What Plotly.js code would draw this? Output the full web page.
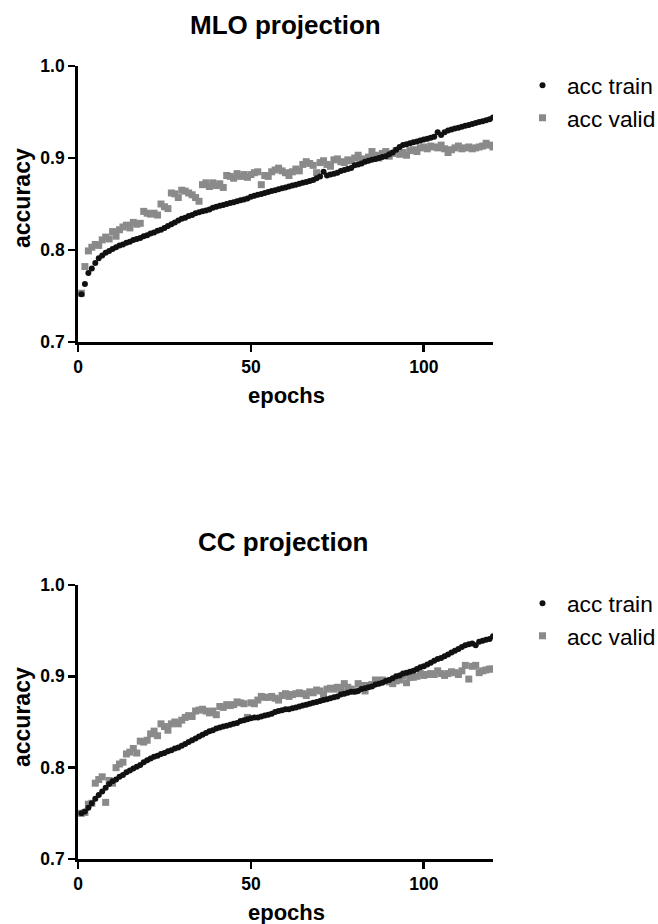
<!DOCTYPE html>
<html>
<head>
<meta charset="utf-8">
<script src="https://cdn.plot.ly/plotly-3.0.1.min.js"></script>
<style>html,body{margin:0;padding:0;background:#fff;}#chart{width:658px;height:924px;}</style>
</head>
<body>
<div id="chart"></div>
<script>
// ---- data ----
const epochs = Array.from({length: 120}, (_, i) => i + 1);

const mloTrain = [
 .752,.763,.775,.780,.786,.791,.794,.797,.799,.801,
 .803,.805,.806,.808,.809,.811,.812,.813,.815,.816,
 .818,.819,.821,.822,.824,.826,.828,.830,.832,.834,
 .835,.837,.838,.840,.841,.842,.843,.844,.846,.847,
 .848,.849,.850,.851,.852,.853,.854,.855,.856,.858,
 .859,.860,.861,.862,.863,.864,.865,.866,.867,.868,
 .869,.870,.871,.872,.873,.874,.875,.876,.878,.880,
 .885,.881,.882,.883,.884,.886,.887,.888,.889,.892,
 .893,.894,.896,.897,.898,.899,.900,.901,.902,.904,
 .906,.909,.912,.914,.915,.916,.917,.918,.919,.920,
 .921,.922,.923,.928,.925,.928,.930,.931,.932,.933,
 .934,.935,.936,.937,.938,.939,.940,.941,.942,.944
];
const mloValid = [
 .753,.782,.799,.803,.806,.805,.811,.814,.812,.820,
 .815,.822,.825,.827,.824,.830,.828,.829,.842,.840,
 .839,.840,.838,.850,.847,.845,.862,.861,.857,.865,
 .864,.862,.860,.857,.853,.871,.873,.869,.873,.870,
 .872,.868,.881,.880,.878,.883,.880,.882,.879,.882,
 .884,.885,.871,.881,.880,.885,.887,.889,.886,.884,
 .881,.885,.888,.886,.893,.896,.894,.892,.884,.895,
 .897,.893,.891,.898,.899,.896,.895,.898,.897,.900,
 .903,.899,.898,.901,.907,.903,.900,.905,.907,.902,
 .905,.908,.904,.906,.903,.908,.909,.907,.911,.912,
 .910,.913,.912,.911,.914,.910,.906,.909,.911,.913,
 .910,.911,.912,.910,.911,.912,.913,.916,.914,.912
];
const ccTrain = [
 .750,.752,.756,.761,.766,.770,.774,.778,.782,.785,
 .787,.790,.792,.795,.797,.799,.801,.803,.806,.808,
 .810,.812,.813,.815,.816,.818,.819,.821,.822,.824,
 .826,.828,.830,.832,.834,.836,.838,.840,.841,.843,
 .844,.845,.846,.847,.848,.849,.851,.852,.853,.854,
 .855,.855,.856,.857,.858,.859,.861,.862,.863,.864,
 .864,.865,.866,.867,.868,.869,.870,.871,.872,.873,
 .874,.875,.876,.877,.878,.880,.881,.882,.883,.883,
 .884,.886,.887,.888,.889,.891,.892,.893,.895,.896,
 .898,.900,.901,.903,.904,.905,.906,.908,.910,.911,
 .913,.915,.917,.919,.920,.922,.924,.926,.928,.930,
 .932,.934,.935,.936,.934,.938,.939,.940,.941,.944
];
const ccValid = [
 .750,.751,.760,.761,.783,.787,.790,.762,.786,.783,
 .800,.804,.806,.815,.817,.821,.816,.829,.828,.830,
 .837,.840,.835,.848,.845,.841,.848,.850,.848,.852,
 .855,.857,.856,.862,.863,.864,.862,.860,.862,.858,
 .867,.866,.869,.868,.869,.872,.871,.870,.855,.871,
 .870,.874,.878,.877,.877,.878,.876,.874,.879,.881,
 .878,.880,.881,.882,.881,.879,.883,.882,.885,.884,
 .880,.886,.887,.886,.888,.886,.892,.888,.886,.884,
 .892,.890,.884,.890,.891,.896,.895,.896,.895,.894,
 .892,.895,.896,.901,.893,.899,.899,.900,.903,.901,
 .902,.903,.902,.906,.903,.901,.903,.905,.904,.902,
 .906,.912,.897,.911,.912,.904,.906,.907,.908,.908
];

const panelTitles = ['MLO projection', 'CC projection'];
const seriesNames = ['acc train', 'acc valid'];
const xTicks = [0, 50, 100];
const yTicks = [0.7, 0.8, 0.9, 1.0];

// ---- styling ----
const W = 658, H = 924;
const FONT = 'Liberation Sans, Arial, sans-serif';
const trainMarker = {symbol: 'circle', size: 6, color: '#111111'};
const validMarker = {symbol: 'square', size: 7, color: '#8a8a8a'};

function px(x) { return x / W; }
function py(y) { return 1 - y / H; }

const traces = [
  {x: epochs, y: mloValid, type: 'scatter', mode: 'markers', name: seriesNames[1], marker: validMarker, xaxis: 'x', yaxis: 'y', legend: 'legend', legendgroup: 'v1', legendrank: 2},
  {x: epochs, y: mloTrain, type: 'scatter', mode: 'markers', name: seriesNames[0], marker: trainMarker, xaxis: 'x', yaxis: 'y', legend: 'legend', legendgroup: 't1', legendrank: 1},
  {x: epochs, y: ccValid, type: 'scatter', mode: 'markers', name: seriesNames[1], marker: validMarker, xaxis: 'x2', yaxis: 'y2', legend: 'legend2', legendgroup: 'v2', legendrank: 2},
  {x: epochs, y: ccTrain, type: 'scatter', mode: 'markers', name: seriesNames[0], marker: trainMarker, xaxis: 'x2', yaxis: 'y2', legend: 'legend2', legendgroup: 't2', legendrank: 1}
];

const xDom = [px(78), px(493)];
const tickFont = {family: FONT, size: 17.5, color: '#000', weight: 'bold'};
function xAxis(anchor) {
  return {
    domain: xDom, anchor: anchor, range: [0, 120], tickvals: xTicks,
    showline: true, linecolor: '#000', linewidth: 2.8, ticks: 'outside', ticklen: 7, tickwidth: 2.8, tickcolor: '#000',
    showgrid: false, zeroline: false, automargin: false, tickfont: tickFont
  };
}
function yAxis(anchor, top, bottom) {
  return {
    domain: [py(bottom), py(top)], anchor: anchor, range: [0.7, 1.0], tickvals: yTicks, tickformat: '.1f',
    showline: true, linecolor: '#000', linewidth: 2.8, ticks: 'outside', ticklen: 7, tickwidth: 2.8, tickcolor: '#000',
    showgrid: false, zeroline: false, automargin: false, tickfont: tickFont
  };
}

const legendBase = {
  font: {family: FONT, size: 22.7, color: '#000'},
  bgcolor: 'rgba(0,0,0,0)', borderwidth: 0, tracegroupgap: 9,
  xanchor: 'left', yanchor: 'top', traceorder: 'normal', itemwidth: 39
};

function ann(text, x, y, size, angle) {
  return {text: text, xref: 'paper', yref: 'paper', x: px(x), y: py(y), showarrow: false,
    xanchor: 'center', yanchor: 'middle', textangle: angle || 0,
    font: {family: FONT, size: size, color: '#000', weight: 'bold'}};
}

const layout = {
  width: W, height: H,
  margin: {l: 0, r: 0, t: 0, b: 0, autoexpand: false},
  paper_bgcolor: '#fff', plot_bgcolor: '#fff',
  showlegend: true,
  xaxis: xAxis('y'), yaxis: yAxis('x', 66, 342),
  xaxis2: xAxis('y2'), yaxis2: yAxis('x2', 585, 859),
  legend: Object.assign({x: px(518), y: py(64)}, legendBase),
  legend2: Object.assign({x: px(518), y: py(582)}, legendBase),
  annotations: [
    ann(panelTitles[0], 285, 25, 26),
    ann(panelTitles[1], 283, 542, 26),
    ann('accuracy', 22, 198, 23, -90),
    ann('accuracy', 22, 717, 23, -90),
    ann('epochs', 286, 395, 22),
    ann('epochs', 286, 912, 22)
  ]
};

Plotly.newPlot('chart', traces, layout, {staticPlot: true, displayModeBar: false});
</script>
</body>
</html>
